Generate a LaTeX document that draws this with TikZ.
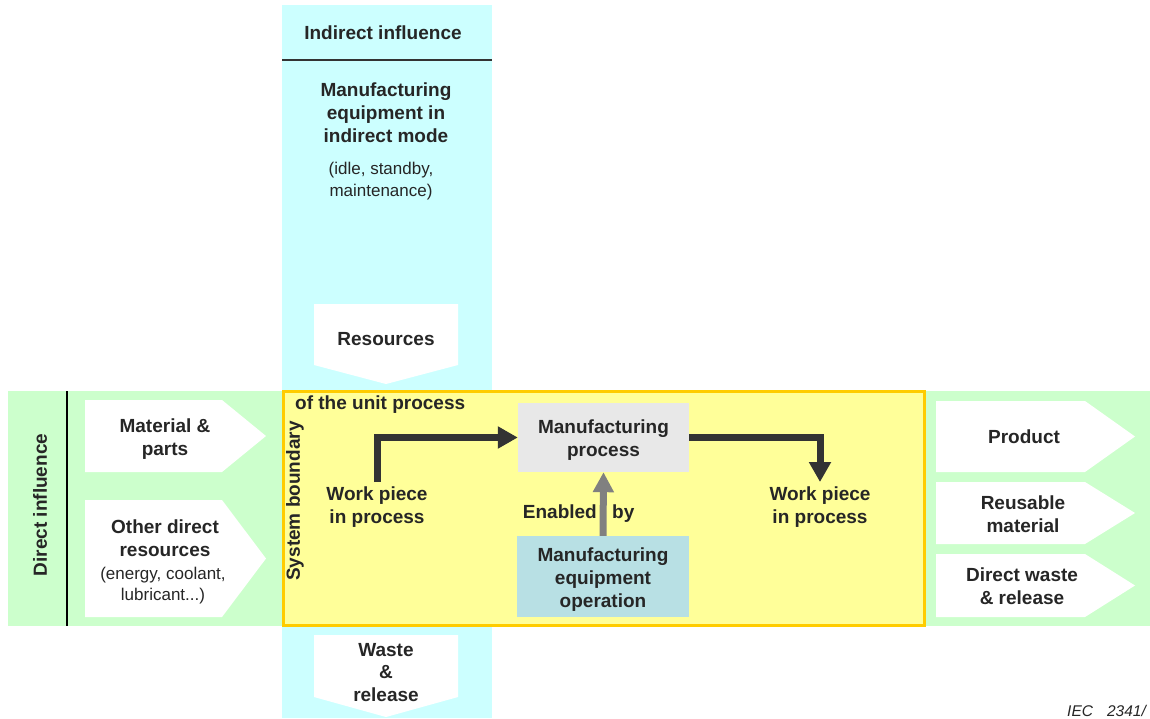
\documentclass[tikz,border=0pt]{standalone}
\usepackage{fontspec}
\setmainfont{Liberation Sans}
\usetikzlibrary{arrows.meta}
\definecolor{cyanband}{HTML}{CCFFFF}
\definecolor{greenband}{HTML}{CCFFCC}
\definecolor{boxyellow}{HTML}{FFFF99}
\definecolor{boxborder}{HTML}{FFCC00}
\definecolor{procgray}{HTML}{E8E8E8}
\definecolor{equipblue}{HTML}{B8E0E4}
\definecolor{ink}{HTML}{262626}
\definecolor{flowdark}{HTML}{333333}
\definecolor{flowgray}{HTML}{808080}
\tikzset{
  bold/.style={font=\fontsize{19}{22.8}\selectfont\bfseries, text=ink, align=center, inner sep=0pt},
  plain/.style={font=\fontsize{17}{21.5}\selectfont, text=ink, align=center, inner sep=0pt},
  procbox/.style={inner sep=0pt},
  workflow/.style={draw=flowdark, line width=7pt, line join=miter,
    -{Triangle[width=21pt,length=20pt]}},
  enableflow/.style={draw=flowgray, line width=7pt,
    -{Triangle[width=20pt,length=20pt]}},
  chevron/.style={fill=white, draw=none}
}
\begin{document}
\begin{tikzpicture}[x=1pt,y=-1pt]
\useasboundingbox (0,0) rectangle (1150,718);
\fill[white] (0,0) rectangle (1150,718);

% bands: direct influence (horizontal) and indirect influence (vertical)
\fill[greenband] (8,391) rectangle (1150,626);
\fill[cyanband] (282,5) rectangle (492,718);
\draw[black, line width=1.2pt] (67,391) -- (67,626);
\draw[flowdark, line width=1.5pt] (282,60) -- (492,60);

% system boundary of the unit process
\draw[boxborder, line width=3pt, fill=boxyellow] (283.5,391.5) rectangle (924.5,625.5);

% indirect influence column
\node[bold] (indirect) at (383,33) {Indirect influence};
\node[bold] (idlemode) at (386,113) {Manufacturing\\equipment in\\indirect mode};
\node[plain] (idlelist) at (381,181) {(idle, standby,\\maintenance)};

\fill[chevron] (314,304) -- (458,304) -- (458,365) -- (386,384) -- (314,365) -- cycle;
\node[bold] (resources) at (386,339.5) {Resources};
\fill[chevron] (314,635) -- (458,635) -- (458,697) -- (386,717) -- (314,697) -- cycle;
\node[bold] (waste) at (386,672.5) {Waste\\\&\\release};

% direct influence inputs
\node[bold, rotate=90] (direct) at (40,505) {Direct influence};
\fill[chevron] (85,400) -- (222,400) -- (266,436) -- (222,472) -- (85,472) -- cycle;
\node[bold] (material) at (165,439) {Material \&\\parts};
\fill[chevron] (85,500) -- (222,500) -- (266,558.5) -- (222,617) -- (85,617) -- cycle;
\node[bold] (otherres) at (165,538) {Other direct\\resources};
\node[plain] (otherlist) at (163,585.5) {(energy, coolant,\\lubricant...)};

% direct influence outputs
\fill[chevron] (936,401) -- (1085,401) -- (1135,436.5) -- (1085,472) -- (936,472) -- cycle;
\node[bold] (product) at (1024,436.5) {Product};
\fill[chevron] (936,482) -- (1085,482) -- (1135,513) -- (1085,544) -- (936,544) -- cycle;
\node[bold] (reusable) at (1023,514.5) {Reusable\\material};
\fill[chevron] (936,554) -- (1085,554) -- (1135,585.5) -- (1085,617) -- (936,617) -- cycle;
\node[bold] (dwaste) at (1022,586.5) {Direct waste\\\& release};

% unit process contents
\node[bold, rotate=90] (sysb) at (295,501) {System boundary};
\node[bold, anchor=west] (unitp) at (295,405) {of the unit process};

\node[procbox, fill=procgray, minimum width=171pt, minimum height=69pt] (mp) at (603.5,437.5) {};
\node[bold] (mptext) at ([yshift=-2.5pt]mp.center) {Manufacturing\\process};
\node[procbox, fill=equipblue, minimum width=172pt, minimum height=81pt] (meo) at (603,576.5) {};
\node[bold] (meotext) at ([yshift=-3pt]meo.center) {Manufacturing\\equipment\\operation};

\node[bold] (wpin) at (377,507) {Work piece\\in process};
\node[bold] (wpout) at (820,507) {Work piece\\in process};
\coordinate (wpinstart) at (377,482);
\coordinate (wpoutend) at (820,482);

\draw[workflow] (wpinstart) |- (mp.west);
\draw[workflow] (mp.east) -| (wpoutend);
\draw[enableflow] (meo.north) -- (mp.south);

\node[bold, anchor=base east] (enabled) at (597,518) {Enabled};
\node[bold, anchor=base west] (by) at (612,518) {by};

% figure reference
\node[font=\fontsize{15.5}{18}\selectfont\itshape, text=ink, anchor=base west, inner sep=0pt] (iec) at (1067,716.5) {IEC\hspace{14pt}2341/};
\end{tikzpicture}
\end{document}
